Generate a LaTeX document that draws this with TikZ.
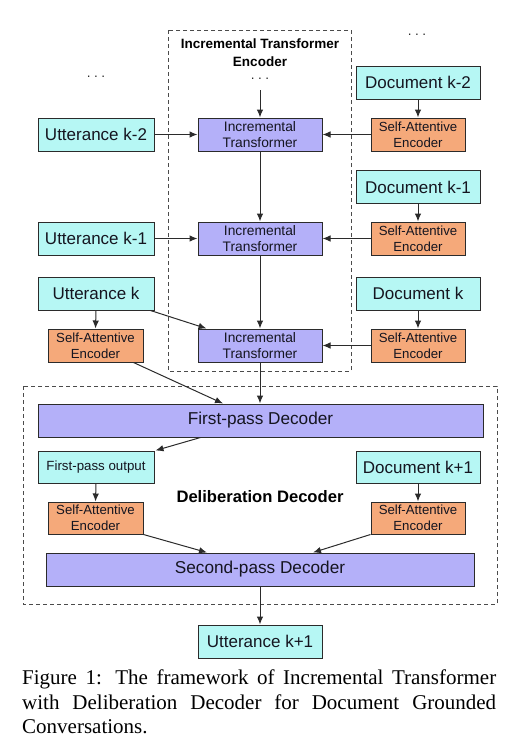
\documentclass[tikz,border=0pt]{standalone}
\usepackage{fontspec}
\setmainfont{Liberation Serif}
\newfontfamily\arial{Liberation Sans}
\usetikzlibrary{arrows.meta,calc}
\definecolor{cyanfill}{HTML}{B6F7F4}
\definecolor{purplefill}{HTML}{B4B0F9}
\definecolor{orangefill}{HTML}{F5A97A}
\definecolor{bordercol}{HTML}{2B2B2B}
\definecolor{txtcol}{HTML}{151520}
\begin{document}
\begin{tikzpicture}[x=1pt,y=-1pt,
  box/.style={draw=bordercol, line width=1pt, inner sep=0pt, align=center, text=txtcol},
  cbox/.style={box, fill=cyanfill, minimum width=124pt, minimum height=33pt, font=\arial\fontsize{17}{20}\selectfont},
  ubox/.style={cbox, minimum width=116pt},
  itbox/.style={box, fill=purplefill, minimum width=124pt, minimum height=33pt, font=\arial\fontsize{13.8}{16.7}\selectfont},
  saebox/.style={box, fill=orangefill, minimum width=94pt, minimum height=33pt, font=\arial\fontsize{13.2}{16}\selectfont},
  decbox/.style={box, fill=purplefill, minimum height=33pt, font=\arial\fontsize{17.2}{20}\selectfont},
  arr/.style={draw=bordercol, line width=1pt, -{Latex[length=8pt,width=6.5pt]}},
  dashbox/.style={draw=bordercol!85, line width=1pt, dash pattern=on 4pt off 3pt},
  dotsnode/.style={inner sep=0pt, font=\arial\fontsize{13.5}{16}\selectfont, text=bordercol}
]
\useasboundingbox (0,0) rectangle (518,747);

% dashed containers
\draw[dashbox] (168,30) rectangle (351,371);
\draw[dashbox] (23,386) rectangle (497,604);

% titles
\node[inner sep=0pt, align=center, font=\arial\bfseries\fontsize{13.5}{18}\selectfont, text=black] (enctitle) at (260,53) {Incremental Transformer\\Encoder};
\node[inner sep=0pt, font=\arial\bfseries\fontsize{16.6}{20}\selectfont, text=black] (dectitle) at (260,497) {Deliberation Decoder};

% dots
\node[dotsnode] (dotsL) at (96,77) {.\kern3.6pt.\kern3.6pt.};
\node[dotsnode] (dotsM) at (260,78.5) {.\kern3.6pt.\kern3.6pt.};
\node[dotsnode] (dotsR) at (417,35) {.\kern3.6pt.\kern3.6pt.};
\coordinate (topin) at (260,90);

% row 1
\node[cbox] (doc2) at (418,82.5) {Document k-2};
\node[saebox] (sae1) at (418,134.5) {Self-Attentive\\Encoder};
\node[itbox] (it1) at (260,134.5) {Incremental\\Transformer};
\node[ubox] (u2) at (96,134.5) {Utterance k-2};

% row 2
\node[cbox] (doc1) at (418,187) {Document k-1};
\node[saebox] (sae2) at (418,238.5) {Self-Attentive\\Encoder};
\node[itbox] (it2) at (260,238.5) {Incremental\\Transformer};
\node[ubox] (u1) at (96,238.5) {Utterance k-1};

% row 3
\node[ubox] (uk) at (96,293.5) {Utterance k};
\node[cbox] (dk) at (418,293.5) {Document k};
\node[saebox, minimum width=95pt] (saeL) at (95.5,345.5) {Self-Attentive\\Encoder};
\node[itbox] (it3) at (260,345.5) {Incremental\\Transformer};
\node[saebox] (sae3) at (418,345.5) {Self-Attentive\\Encoder};

% decoder
\node[decbox, minimum width=445pt] (fpd) at (260.5,420.5) {First-pass Decoder};
\node[ubox, minimum height=32pt, font=\arial\fontsize{13.3}{16}\selectfont] (fpo) at (96,467) {First-pass output};
\node[cbox, minimum height=32pt] (dk1) at (418,467) {Document k+1};
\node[saebox, minimum width=95pt, minimum height=32pt] (saeL2) at (95.5,518) {Self-Attentive\\Encoder};
\node[saebox, minimum height=32pt] (saeR2) at (418,518) {Self-Attentive\\Encoder};
\node[decbox, minimum width=428pt] (spd) at (260,569.5) {Second-pass Decoder};
\node[cbox] (uk1) at (260,641.5) {Utterance k+1};

% connectors, encoder
\draw[arr] (topin) -- (it1.north);
\draw[arr] (u2.east) -- (it1.west);
\draw[arr] (doc2.south) -- (sae1.north);
\draw[arr] (sae1.west) -- (it1.east);
\draw[arr] (it1.south) -- (it2.north);
\draw[arr] (u1.east) -- (it2.west);
\draw[arr] (doc1.south) -- (sae2.north);
\draw[arr] (sae2.west) -- (it2.east);
\draw[arr] (it2.south) -- (it3.north);
\draw[arr] (uk.south) -- (saeL.north);
\draw[arr] ($(uk.south east)+(-4,0)$) -- ($(it3.north west)+(9,0)$);
\draw[arr] (dk.south) -- (sae3.north);
\draw[arr] (sae3.west) -- (it3.east);

% connectors, decoder
\draw[arr] (it3.south) -- (it3.south |- fpd.north);
\draw[arr] ($(saeL.south east)+(-10,0)$) -- ($(fpd.north)+(-37.5,0)$);
\draw[arr] ($(fpd.south)+(-60,0)$) -- ($(fpo.north east)+(1,0)$);
\draw[arr] (fpo.south) -- (saeL2.north);
\draw[arr] (dk1.south) -- (saeR2.north);
\draw[arr] (saeL2.south east) -- ($(spd.north)+(-53,0)$);
\draw[arr] (saeR2.south west) -- ($(spd.north)+(53,0)$);
\draw[arr] (spd.south) -- (uk1.north);

% caption
\node[anchor=north west, inner sep=0pt, text width=474pt, align=justify,
      font=\fontsize{21}{24.5}\selectfont] (cap) at (22,670)
  {\hyphenpenalty=10000 Figure 1: The framework of Incremental Transformer\linebreak with Deliberation Decoder for Document Grounded\linebreak Conversations.};
\end{tikzpicture}
\end{document}
